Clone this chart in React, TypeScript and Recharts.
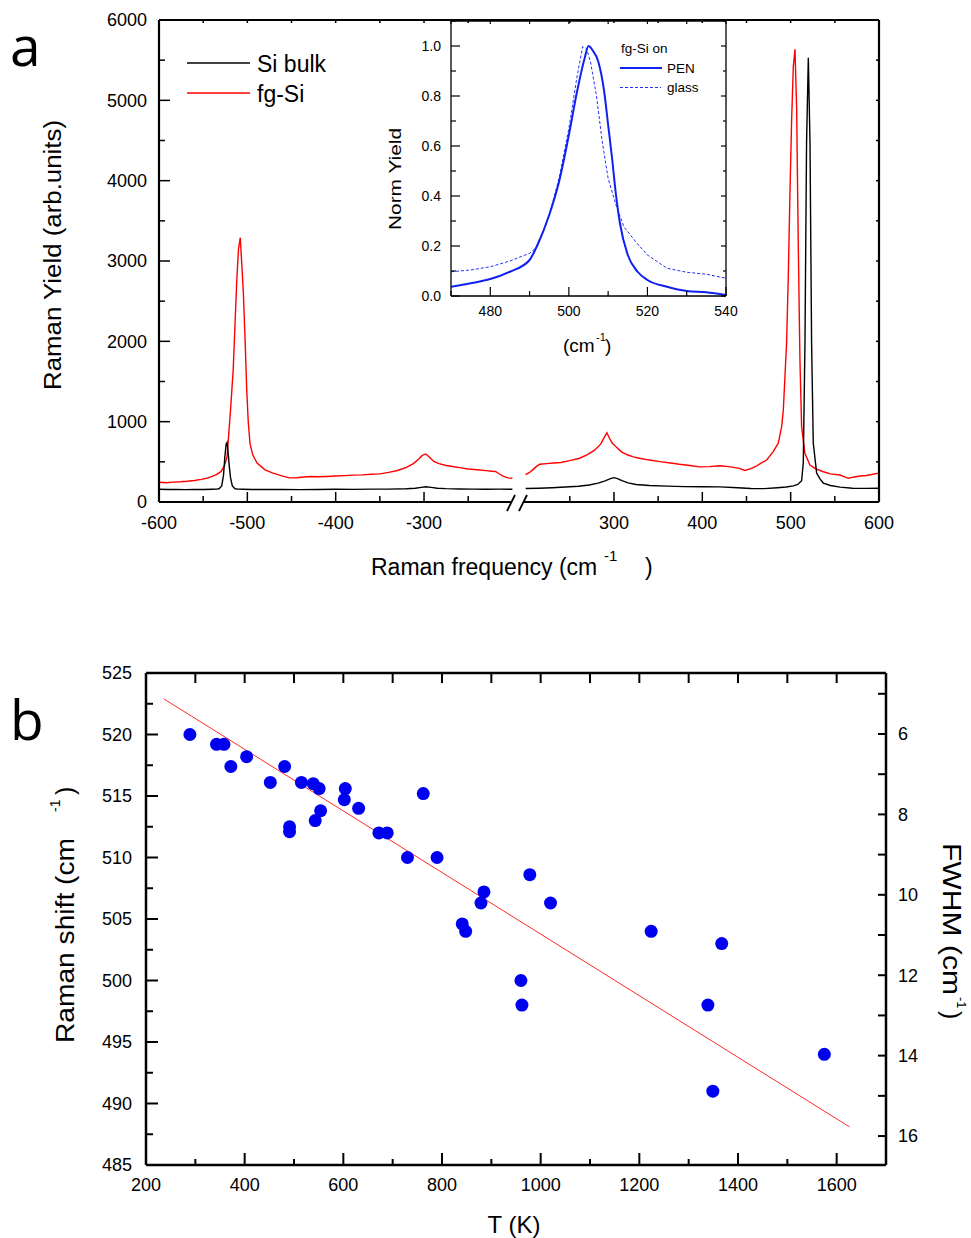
import React from 'react';
import { LineChart, Line, XAxis, YAxis, ScatterChart, Scatter } from 'recharts';

const FONT = '"Liberation Sans", Arial, Helvetica, sans-serif';

// ---------- panel a: Raman spectra, broken frequency axis ----------
const bulkLeftFreq = [
  -600, -590, -580, -570, -560, -550, -540, -535, -532, -529,
  -527, -525.5, -524, -523, -522, -520.5, -519, -517, -514, -510,
  -505, -495, -480, -460, -440, -420, -400, -380, -360, -340,
  -320, -310, -303, -298, -292, -285, -275, -260, -245, -230,
  -215, -200,
];
const bulkLeftYield = [
  158, 155, 157, 154, 157, 156, 158, 160, 165, 200,
  330, 560, 720, 740, 650, 450, 300, 200, 165, 160,
  158, 156, 155, 157, 154, 156, 158, 157, 160, 160,
  165, 172, 182, 190, 182, 172, 166, 162, 160, 158,
  160, 159,
];
const bulkRightFreq = [
  200, 215, 230, 245, 260, 272, 282, 290, 296, 300,
  304, 309, 316, 325, 340, 360, 380, 400, 420, 440,
  455, 470, 485, 495, 503, 508, 512.4, 514.3, 516.2, 518,
  520, 521.9, 523.7, 525.6, 529.4, 533, 537, 545, 556, 570,
  585, 600,
];
const bulkRightYield = [
  168, 172, 178, 186, 196, 212, 235, 262, 290, 303,
  292, 265, 238, 218, 205, 198, 192, 190, 188, 178,
  168, 166, 178, 186, 200, 218, 265, 485, 1980, 4470,
  5530, 4470, 1980, 735, 360, 290, 236, 205, 185, 172,
  170, 172,
];
const fgLeftFreq = [
  -600, -592, -584, -576, -568, -560, -552, -546, -540, -535,
  -530, -526, -523, -521.5, -519, -516, -514, -512, -510, -508,
  -506.5, -504.5, -502.5, -500.7, -499, -497, -494, -489, -480, -471,
  -460, -452, -444, -436, -428, -420, -410, -400, -390, -380,
  -370, -360, -350, -340, -330, -320, -312, -306, -302, -298,
  -294, -289, -283, -275, -266, -258, -250, -240, -230, -223,
  -219, -215, -210, -205, -200,
];
const fgLeftYield = [
  245, 240, 248, 252, 258, 268, 282, 295, 318, 340,
  378, 450, 560, 780, 1150, 1650, 2200, 2750, 3150, 3290,
  3000, 2600, 2000, 1400, 1000, 730, 590, 485, 400, 360,
  322, 300, 302, 312, 318, 314, 318, 323, 328, 335,
  338, 346, 350, 368, 392, 432, 478, 535, 580, 598,
  560, 505, 478, 455, 438, 425, 410, 402, 390, 382,
  380, 352, 318, 300, 295,
];
const fgRightFreq = [
  200, 204, 208, 212, 216, 224, 232, 240, 250, 261,
  270, 278, 285, 289, 292, 295, 298, 303, 308, 315,
  322, 329, 340, 352, 364, 374, 386, 397, 408, 420,
  430, 442, 448, 455, 461, 466, 472.8, 480.3, 486, 489.8,
  491.7, 495.4, 497.3, 499.2, 501.1, 503, 504.9, 506.8, 508.6, 510.5,
  512.4, 516.1, 521.8, 528, 536.9, 545, 555.8, 565.2, 572, 578.5,
  586, 593, 600,
];
const fgRightYield = [
  340, 365, 400, 440, 470, 478, 486, 492, 515, 545,
  590, 645, 720, 805, 862, 790, 735, 680, 628, 588,
  562, 545, 522, 502, 486, 470, 455, 437, 440, 452,
  440, 418, 392, 415, 445, 480, 523, 626, 734, 938,
  1145, 1980, 2805, 3845, 4755, 5420, 5636, 4880, 3220, 1770,
  938, 606, 460, 415, 377, 350, 336, 295, 312, 324,
  330, 345, 360,
];
const freqTicks = [-600, -550, -500, -450, -400, -350, -300, -250, 250, 300, 350, 400, 450, 500, 550, 600];
const freqLabels = [-600, -500, -400, -300, 300, 400, 500, 600];
const yieldTicks = [0, 500, 1000, 1500, 2000, 2500, 3000, 3500, 4000, 4500, 5000, 5500, 6000];
const yieldLabels = [0, 1000, 2000, 3000, 4000, 5000, 6000];

// ---------- inset: normalised fg-Si peak ----------
const penFreq = [470, 475, 480, 485, 490, 492, 495, 497.5, 500, 502, 504, 505, 506, 507.5, 509, 510, 511, 512, 513, 515, 517.5, 520, 525, 530, 535, 540];
const penYield = [0.037, 0.051, 0.068, 0.097, 0.144, 0.204, 0.324, 0.457, 0.644, 0.811, 0.95, 1.0, 0.984, 0.937, 0.817, 0.684, 0.551, 0.404, 0.291, 0.164, 0.097, 0.064, 0.037, 0.02, 0.015, 0.004];
const glassFreq = [470, 475, 480, 485, 490, 492, 495, 497.5, 500, 502, 503.5, 504.5, 505.5, 507, 508.5, 510, 512, 514, 517, 520, 525, 530, 535, 540];
const glassYield = [0.097, 0.104, 0.117, 0.14, 0.171, 0.197, 0.324, 0.47, 0.67, 0.87, 0.997, 0.99, 0.937, 0.804, 0.617, 0.47, 0.364, 0.277, 0.217, 0.164, 0.111, 0.095, 0.087, 0.071];
const insetXTicks = [470, 480, 490, 500, 510, 520, 530, 540];
const insetXLabels = [480, 500, 520, 540];
const insetYTicks = [0, 0.1, 0.2, 0.3, 0.4, 0.5, 0.6, 0.7, 0.8, 0.9, 1.0, 1.1];
const insetYLabels = [0, 0.2, 0.4, 0.6, 0.8, 1.0];

// ---------- panel b: Raman shift vs temperature ----------
const temps = [289, 343, 358, 372, 404, 452, 481, 515, 539, 551, 491, 491, 543, 554, 604, 602, 631, 672, 689, 730, 790, 762, 841, 848, 879, 885, 978, 1020, 960, 962, 1224, 1367, 1339, 1349, 1575];
const shifts = [520.0, 519.2, 519.2, 517.4, 518.2, 516.1, 517.4, 516.1, 516.0, 515.6, 512.5, 512.1, 513.0, 513.8, 515.6, 514.7, 514.0, 512.0, 512.0, 510.0, 510.0, 515.2, 504.6, 504.0, 506.3, 507.2, 508.6, 506.3, 500.0, 498.0, 504.0, 503.0, 498.0, 491.0, 494.0];
const fitT = [236, 1626];
const fitShift = [522.9, 488.1];
const tTicks = [200, 300, 400, 500, 600, 700, 800, 900, 1000, 1100, 1200, 1300, 1400, 1500, 1600, 1700];
const tLabels = [200, 400, 600, 800, 1000, 1200, 1400, 1600];
const shiftTicks = [485, 487.5, 490, 492.5, 495, 497.5, 500, 502.5, 505, 507.5, 510, 512.5, 515, 517.5, 520, 522.5, 525];
const shiftLabels = [485, 490, 495, 500, 505, 510, 515, 520, 525];
const fwhmTicks = [5, 6, 7, 8, 9, 10, 11, 12, 13, 14, 15, 16];
const fwhmLabels = [6, 8, 10, 12, 14, 16];

// the axis gap: left branch and right branch are pulled together
const BREAK_SHIFT = 192.5;
const toAxis = (f: number) => (f < 0 ? f + BREAK_SHIFT : f - BREAK_SHIFT);
const fromAxis = (u: number) => Math.round(u < 0 ? u - BREAK_SHIFT : u + BREAK_SHIFT);

const zipAxis = (fs: number[], ys: number[]) => fs.map((f, i) => ({ u: toAxis(f), y: ys[i] }));
const zip = (fs: number[], ys: number[]) => fs.map((f, i) => ({ f, y: ys[i] }));

interface TickSpec {
  side: 'left' | 'right' | 'top' | 'bottom';
  major: number[];
  majorLen: number;
  minorLen: number;
  width?: number;
  labels?: boolean;
  fontSize?: number;
  gap?: number;
  fmt?: (v: number) => string;
}

// inward tick marks with labels only on the major ticks
function tickRenderer(spec: TickSpec) {
  return (p: any) => {
    const v: number = p.payload.value;
    const isMajor = spec.major.some((m) => Math.abs(m - v) < 1e-6);
    const len = isMajor ? spec.majorLen : spec.minorLen;
    const x = p.x;
    const y = p.y;
    const gap = spec.gap ?? 8;
    let x2 = x, y2 = y, tx = x, ty = y;
    let anchor: 'start' | 'middle' | 'end' = 'middle';
    let dy = '0.35em';
    if (spec.side === 'left') { x2 = x + len; tx = x - gap; anchor = 'end'; }
    else if (spec.side === 'right') { x2 = x - len; tx = x + gap; anchor = 'start'; }
    else if (spec.side === 'top') { y2 = y + len; ty = y - gap; dy = '0'; }
    else { y2 = y - len; ty = y + gap; dy = '0.71em'; }
    return (
      <g>
        <line x1={x} y1={y} x2={x2} y2={y2} stroke="#000" strokeWidth={spec.width ?? 1.5} />
        {spec.labels && isMajor ? (
          <text x={tx} y={ty} dy={dy} textAnchor={anchor} fontSize={spec.fontSize} fontFamily={FONT} fill="#000">
            {spec.fmt ? spec.fmt(v) : String(v)}
          </text>
        ) : null}
      </g>
    );
  };
}

// axes are 1px thick so recharts still draws them; margins are reduced by that 1px
function SpectraChart() {
  const domainU: [number, number] = [toAxis(-600), toAxis(600)];
  const uTicks = freqTicks.map(toAxis);
  const uMajor = freqLabels.map(toAxis);
  const axisA = { stroke: '#000', strokeWidth: 2.2 };
  return (
    <LineChart width={971} height={600} margin={{ top: 19, right: 91, bottom: 97, left: 158 }}>
      <XAxis xAxisId="b" type="number" dataKey="u" domain={domainU} ticks={uTicks} interval={0} height={1}
        tickSize={0} tickMargin={0} tickLine={false} axisLine={axisA} allowDataOverflow
        tick={tickRenderer({ side: 'bottom', major: uMajor, majorLen: 10, minorLen: 6, labels: true, fontSize: 18, gap: 14, fmt: (v) => String(fromAxis(v)) })} />
      <XAxis xAxisId="t" orientation="top" type="number" dataKey="u" domain={domainU} ticks={uTicks} interval={0} height={1}
        tickSize={0} tickMargin={0} tickLine={false} axisLine={axisA} allowDataOverflow
        tick={tickRenderer({ side: 'top', major: uMajor, majorLen: 3, minorLen: 3 })} />
      <YAxis yAxisId="l" type="number" domain={[0, 6000]} ticks={yieldTicks} interval={0} width={1}
        tickSize={0} tickMargin={0} tickLine={false} axisLine={axisA} allowDataOverflow
        tick={tickRenderer({ side: 'left', major: yieldLabels, majorLen: 11, minorLen: 6, labels: true, fontSize: 18, gap: 12 })} />
      <YAxis yAxisId="r" orientation="right" type="number" domain={[0, 6000]} ticks={yieldTicks} interval={0} width={1}
        tickSize={0} tickMargin={0} tickLine={false} axisLine={axisA} allowDataOverflow
        tick={tickRenderer({ side: 'right', major: yieldLabels, majorLen: 3, minorLen: 3 })} />
      <Line data={zipAxis(fgLeftFreq, fgLeftYield)} xAxisId="b" yAxisId="l" dataKey="y" type="linear" stroke="#ff0000" strokeWidth={1.4} dot={false} isAnimationActive={false} />
      <Line data={zipAxis(fgRightFreq, fgRightYield)} xAxisId="b" yAxisId="l" dataKey="y" type="linear" stroke="#ff0000" strokeWidth={1.4} dot={false} isAnimationActive={false} />
      <Line data={zipAxis(bulkLeftFreq, bulkLeftYield)} xAxisId="b" yAxisId="l" dataKey="y" type="linear" stroke="#000" strokeWidth={1.4} dot={false} isAnimationActive={false} />
      <Line data={zipAxis(bulkRightFreq, bulkRightYield)} xAxisId="b" yAxisId="l" dataKey="y" type="linear" stroke="#000" strokeWidth={1.4} dot={false} isAnimationActive={false} />
    </LineChart>
  );
}

function InsetChart() {
  const axisI = { stroke: '#000', strokeWidth: 1.3 };
  return (
    <LineChart width={380} height={370} margin={{ top: 20, right: 33, bottom: 73, left: 70 }}>
      <XAxis xAxisId="b" type="number" dataKey="f" domain={[470, 540]} ticks={insetXTicks} interval={0} height={1}
        tickSize={0} tickMargin={0} tickLine={false} axisLine={axisI} allowDataOverflow
        tick={tickRenderer({ side: 'bottom', major: insetXLabels, majorLen: 9, minorLen: 5, width: 1.2, labels: true, fontSize: 14, gap: 10 })} />
      <XAxis xAxisId="t" orientation="top" type="number" dataKey="f" domain={[470, 540]} ticks={insetXTicks} interval={0} height={1}
        tickSize={0} tickMargin={0} tickLine={false} axisLine={axisI} allowDataOverflow
        tick={tickRenderer({ side: 'top', major: insetXLabels, majorLen: 3, minorLen: 3, width: 1.2 })} />
      <YAxis yAxisId="l" type="number" domain={[0, 1.1]} ticks={insetYTicks} interval={0} width={1}
        tickSize={0} tickMargin={0} tickLine={false} axisLine={axisI} allowDataOverflow
        tick={tickRenderer({ side: 'left', major: insetYLabels, majorLen: 9, minorLen: 5, width: 1.2, labels: true, fontSize: 14, gap: 10, fmt: (v) => v.toFixed(1) })} />
      <YAxis yAxisId="r" orientation="right" type="number" domain={[0, 1.1]} ticks={insetYTicks} interval={0} width={1}
        tickSize={0} tickMargin={0} tickLine={false} axisLine={axisI} allowDataOverflow
        tick={tickRenderer({ side: 'right', major: insetYLabels, majorLen: 5, minorLen: 3, width: 1.2 })} />
      <Line data={zip(glassFreq, glassYield)} xAxisId="b" yAxisId="l" dataKey="y" type="linear" stroke="#2030ff" strokeWidth={1} strokeDasharray="3 2" dot={false} isAnimationActive={false} />
      <Line data={zip(penFreq, penYield)} xAxisId="b" yAxisId="l" dataKey="y" type="monotone" stroke="#1020f0" strokeWidth={2} dot={false} isAnimationActive={false} />
    </LineChart>
  );
}

function ShiftChart() {
  const points = temps.map((t, i) => ({ t, s: shifts[i] }));
  const fit = fitT.map((t, i) => ({ t, s: fitShift[i] }));
  const axisB = { stroke: '#000', strokeWidth: 2.5 };
  return (
    <ScatterChart width={971} height={618} margin={{ top: 52, right: 84, bottom: 72, left: 145 }}>
      <XAxis xAxisId="b" type="number" dataKey="t" domain={[200, 1700]} ticks={tTicks} interval={0} height={1}
        tickSize={0} tickMargin={0} tickLine={false} axisLine={axisB} allowDataOverflow
        tick={tickRenderer({ side: 'bottom', major: tLabels, majorLen: 12, minorLen: 6, width: 2, labels: true, fontSize: 18, gap: 13 })} />
      <XAxis xAxisId="t" orientation="top" type="number" dataKey="t" domain={[200, 1700]} ticks={tTicks} interval={0} height={1}
        tickSize={0} tickMargin={0} tickLine={false} axisLine={axisB} allowDataOverflow
        tick={tickRenderer({ side: 'top', major: tLabels, majorLen: 10, minorLen: 10, width: 2 })} />
      <YAxis yAxisId="l" type="number" dataKey="s" domain={[485, 525]} ticks={shiftTicks} interval={0} width={1}
        tickSize={0} tickMargin={0} tickLine={false} axisLine={axisB} allowDataOverflow
        tick={tickRenderer({ side: 'left', major: shiftLabels, majorLen: 12, minorLen: 7, width: 2, labels: true, fontSize: 18, gap: 14 })} />
      <YAxis yAxisId="r" orientation="right" type="number" domain={[4.483, 16.72]} reversed ticks={fwhmTicks} interval={0} width={1}
        tickSize={0} tickMargin={0} tickLine={false} axisLine={axisB} allowDataOverflow
        tick={tickRenderer({ side: 'right', major: fwhmLabels, majorLen: 8, minorLen: 8, width: 2, labels: true, fontSize: 18, gap: 12 })} />
      <Scatter data={fit} xAxisId="b" yAxisId="l" line={{ stroke: '#ff2a2a', strokeWidth: 1 }} shape={() => <g />} isAnimationActive={false} />
      <Scatter data={points} xAxisId="b" yAxisId="l" fill="#0000f0" isAnimationActive={false}
        shape={(p: any) => <circle cx={p.cx} cy={p.cy} r={6.5} fill="#0000f0" />} />
    </ScatterChart>
  );
}

function Overlay() {
  const t = { fontFamily: FONT, fill: '#000' };
  return (
    <svg width={971} height={1238} style={{ position: 'absolute', left: 0, top: 0, pointerEvents: 'none' }}>
      {/* panel letters */}
      <text x={10} y={66} fontSize={55} fontFamily='"Open Sans", sans-serif'>a</text>
      <text x={10} y={740} fontSize={55} fontFamily='"Open Sans", sans-serif'>b</text>

      {/* axis break */}
      <rect x={511} y={498} width={12} height={8} fill="#fff" />
      <line x1={507} y1={511} x2={515} y2={495} stroke="#000" strokeWidth={1.8} />
      <line x1={519} y1={511} x2={527} y2={495} stroke="#000" strokeWidth={1.8} />

      {/* panel a legend */}
      <line x1={187} y1={63} x2={250} y2={63} stroke="#000" strokeWidth={1.5} />
      <text x={257} y={71.5} fontSize={23} {...t}>Si bulk</text>
      <line x1={187} y1={93} x2={250} y2={93} stroke="#ff0000" strokeWidth={1.5} />
      <text x={257} y={101.5} fontSize={23} {...t}>fg-Si</text>

      {/* panel a axis titles */}
      <text transform="translate(61,255) rotate(-90)" textAnchor="middle" fontSize={23} textLength={270} lengthAdjust="spacingAndGlyphs" {...t}>Raman Yield (arb.units)</text>
      <text x={371} y={575} fontSize={23} {...t}>Raman frequency (cm</text>
      <text x={604} y={561} fontSize={15} {...t}>-1</text>
      <text x={645} y={575} fontSize={23} {...t}>)</text>

      {/* inset legend and titles */}
      <text x={621} y={53} fontSize={13.5} {...t}>fg-Si on</text>
      <line x1={620} y1={68} x2={662} y2={68} stroke="#1020f0" strokeWidth={2} />
      <text x={667} y={73} fontSize={13.5} {...t}>PEN</text>
      <line x1={620} y1={87.5} x2={661} y2={87.5} stroke="#2030ff" strokeWidth={1} strokeDasharray="3 2" />
      <text x={667} y={92} fontSize={13.5} {...t}>glass</text>
      <text transform="translate(401,179) rotate(-90)" textAnchor="middle" fontSize={17} textLength={102} lengthAdjust="spacingAndGlyphs" {...t}>Norm Yield</text>
      <text x={563} y={352} fontSize={19} {...t}>(cm</text>
      <text x={596} y={341} fontSize={11} {...t}>-1</text>
      <text x={605} y={352} fontSize={19} {...t}>)</text>

      {/* panel b axis titles */}
      <text x={514} y={1233} textAnchor="middle" fontSize={24} {...t}>T (K)</text>
      <text transform="translate(74,1043) rotate(-90)" fontSize={25} textLength={205} lengthAdjust="spacingAndGlyphs" {...t}>Raman shift (cm</text>
      <text transform="translate(60,812) rotate(-90)" fontSize={14} {...t}>-1</text>
      <text transform="translate(74,795) rotate(-90)" fontSize={25} {...t}>)</text>
      <text transform="translate(943,843) rotate(90)" fontSize={25} textLength={152} lengthAdjust="spacingAndGlyphs" {...t}>FWHM (cm</text>
      <text transform="translate(957,997) rotate(90)" fontSize={13} {...t}>-1</text>
      <text transform="translate(943,1011) rotate(90)" fontSize={25} {...t}>)</text>
    </svg>
  );
}

export default function App() {
  return (
    <div style={{ position: 'absolute', left: 0, top: 0, width: 971, height: 1238, background: '#fff', fontFamily: FONT }}>
      <div style={{ position: 'absolute', left: 0, top: 0 }}>
        <SpectraChart />
      </div>
      <div style={{ position: 'absolute', left: 380, top: 0 }}>
        <InsetChart />
      </div>
      <div style={{ position: 'absolute', left: 0, top: 620 }}>
        <ShiftChart />
      </div>
      <Overlay />
    </div>
  );
}
